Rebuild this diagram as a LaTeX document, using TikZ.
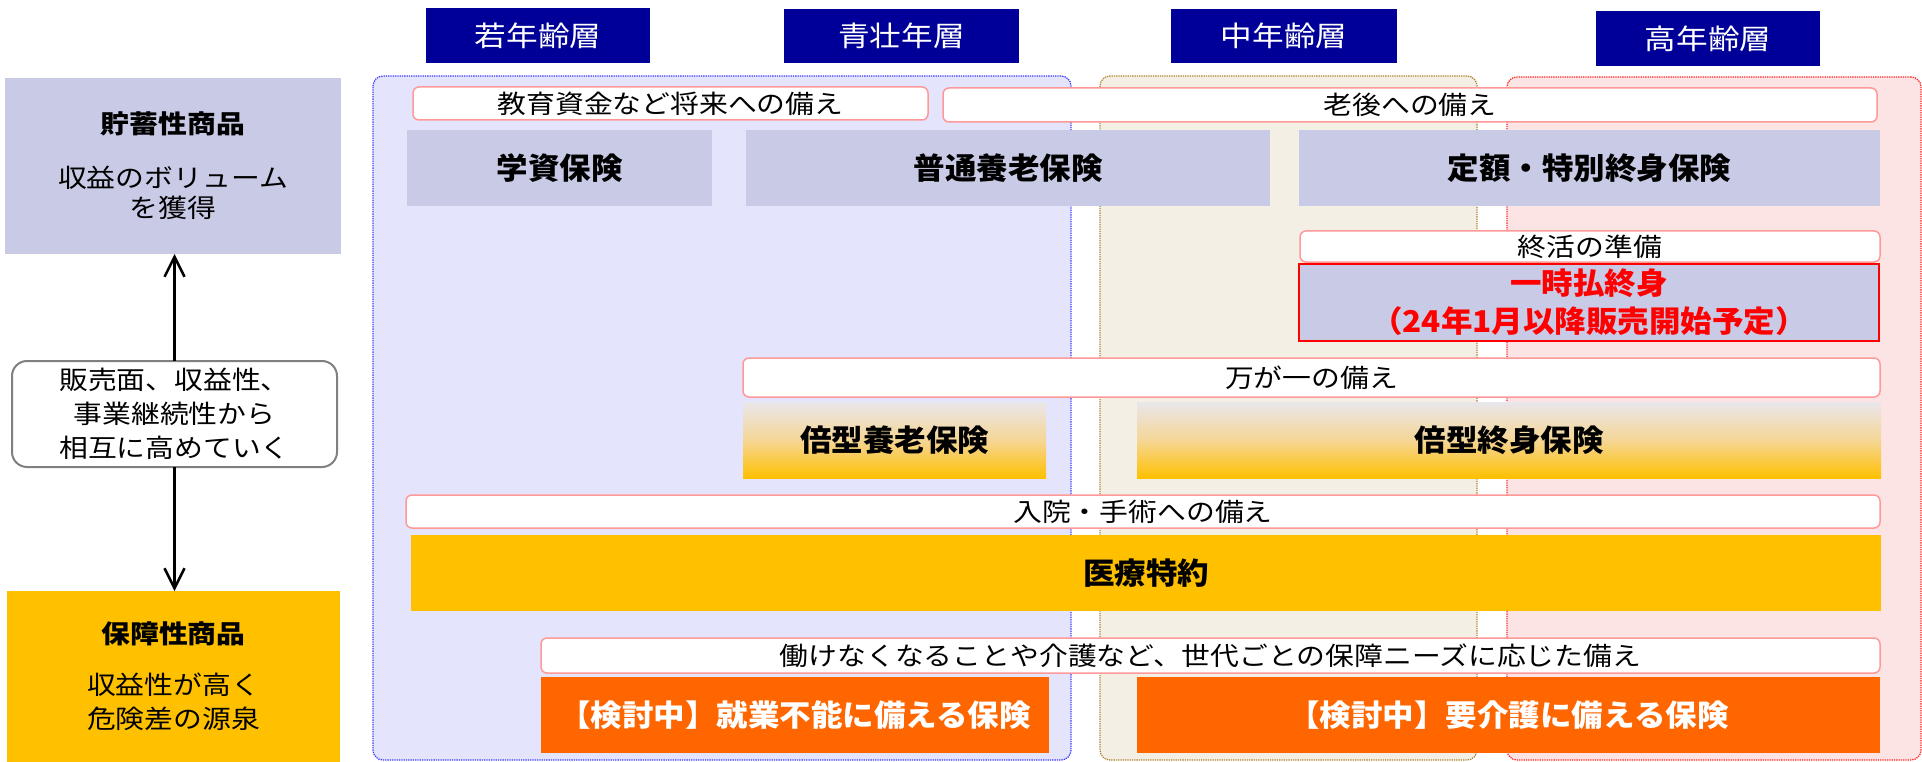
\documentclass[tikz,border=0pt]{standalone}
\usepackage{fontspec}
\setmainfont{Noto Sans CJK JP}[FakeStretch=1.13]
\newfontfamily\boldfam{Noto Sans CJK JP}[FakeStretch=1.05]
\usetikzlibrary{arrows.meta}
\definecolor{navy}{RGB}{0,0,153}
\definecolor{lav}{RGB}{201,202,230}
\definecolor{youngbg}{RGB}{228,228,252}
\definecolor{midbg}{RGB}{243,239,228}
\definecolor{oldbg}{RGB}{253,228,228}
\definecolor{youngline}{RGB}{60,60,255}
\definecolor{midline}{RGB}{176,130,50}
\definecolor{oldline}{RGB}{255,40,40}
\definecolor{labelline}{RGB}{255,153,153}
\definecolor{gold}{RGB}{255,192,0}
\definecolor{orng}{RGB}{255,102,0}
\definecolor{gradtop}{RGB}{233,230,236}
\definecolor{gradmid}{RGB}{245,214,150}
\definecolor{grayline}{RGB}{128,128,128}
\newcommand\boxnode[7]{%
  \pgfmathsetmacro\bw{#5-#3}\pgfmathsetmacro\bh{#6-#4}%
  \node[#1, anchor=north west, minimum width=\bw pt, minimum height=\bh pt] (#2) at (#3,#4) {#7};}
\tikzset{
  every node/.style={inner sep=0pt, outer sep=0pt},
  hdr/.style={fill=navy, text=white, font=\fontsize{28}{32}\selectfont},
  region/.style={densely dotted, line width=1.3pt, rounded corners=10pt},
  lbl/.style={fill=white, draw=labelline, line width=1.5pt, rounded corners=6pt, font=\fontsize{25.5}{30}\selectfont},
  prod/.style={font=\boldfam\bfseries\fontsize{30}{34}\selectfont},
  lavprod/.style={prod, fill=lav},
  gradprod/.style={prod, top color=gradtop, bottom color=gold, middle color=gradmid},
  goldprod/.style={prod, fill=gold},
  orprod/.style={prod, fill=orng, text=white},
  redprod/.style={font=\boldfam\bfseries\fontsize{30}{38}\selectfont, fill=lav, draw=red, line width=2.5pt, text=red, align=center},
  leftbox/.style={align=center},
  arr/.style={line width=2.5pt, -{Straight Barb[length=20pt,width=20pt]}}
}
\begin{document}
\begin{tikzpicture}[x=1pt, y=-1pt]
\useasboundingbox (0,0) rectangle (1922,762);
% regions
\boxnode{region, fill=youngbg, draw=youngline}{ryoung}{373}{76}{1071}{760}{}
\boxnode{region, fill=midbg, draw=midline}{rmid}{1100}{76}{1477}{760}{}
\boxnode{region, fill=oldbg, draw=oldline}{rold}{1507}{77}{1921}{760}{}
% headers
\boxnode{hdr}{h1}{426}{8}{650}{63}{若年齢層}
\boxnode{hdr}{h2}{784}{9}{1019}{63}{青壮年層}
\boxnode{hdr}{h3}{1171}{9}{1397}{63}{中年齢層}
\boxnode{hdr}{h4}{1596}{11}{1820}{66}{高年齢層}
% label boxes
\boxnode{lbl}{l1}{413}{87}{928}{120}{教育資金など将来への備え}
\boxnode{lbl}{l2}{943}{88}{1877}{122}{老後への備え}
\boxnode{lbl}{l3}{1300}{231}{1880}{262}{終活の準備}
\boxnode{lbl}{l4}{743}{358}{1880}{397}{万が一の備え}
\boxnode{lbl}{l5}{406}{495}{1880}{528}{入院・手術への備え}
\boxnode{lbl}{l6}{541}{638}{1880}{673}{働けなくなることや介護など、世代ごとの保障ニーズに応じた備え}
% products
\boxnode{lavprod}{p1}{407}{130}{712}{206}{学資保険}
\boxnode{lavprod}{p2}{746}{130}{1270}{206}{普通養老保険}
\boxnode{lavprod}{p3}{1299}{130}{1880}{206}{定額・特別終身保険}
\boxnode{redprod}{p4}{1299}{264}{1879}{341}{一時払終身\\（24年1月以降販売開始予定）}
\boxnode{gradprod}{p5}{743}{402}{1046}{478}{倍型養老保険}
\boxnode{gradprod}{p6}{1137}{402}{1881}{478}{倍型終身保険}
\boxnode{goldprod}{p7}{411}{535}{1881}{611}{医療特約}
\boxnode{orprod}{p8}{541}{677}{1049}{753}{【検討中】就業不能に備える保険}
\boxnode{orprod}{p9}{1137}{677}{1880}{753}{【検討中】要介護に備える保険}
% left column
\boxnode{leftbox, fill=lav, font=\fontsize{25.5}{30}\selectfont}{sav}{5}{78}{341}{254}{{\bfseries 貯蓄性商品}\\[24pt]収益のボリューム\\を獲得}
\boxnode{leftbox, fill=white, draw=grayline, line width=2pt, rounded corners=15pt, font=\fontsize{25.5}{34}\selectfont}{mid}{12}{361}{337}{467}{販売面、収益性、\\事業継続性から\\相互に高めていく}
\boxnode{leftbox, fill=gold, font=\fontsize{25.5}{34}\selectfont}{prot}{7}{591}{340}{762}{{\bfseries 保障性商品}\\[17pt]収益性が高く\\危険差の源泉}
\draw[arr] (mid.north) -- (mid.north |- sav.south);
\draw[arr] (mid.south) -- (mid.south |- prot.north);
\end{tikzpicture}
\end{document}
